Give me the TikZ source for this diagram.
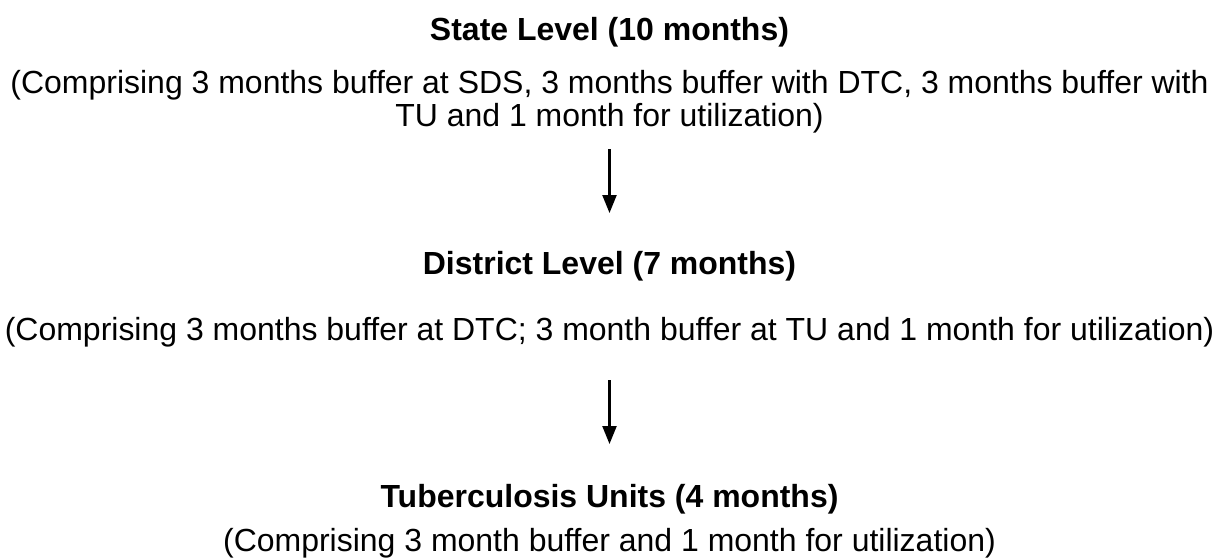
\documentclass[tikz,border=0pt]{standalone}
\usepackage{fontspec}
\setmainfont{Liberation Sans}
\usetikzlibrary{arrows.meta}

\begin{document}
\begin{tikzpicture}
    \useasboundingbox (0,0) rectangle (24.38,-11.16);
    \tikzset{every node/.style = {font = \fontsize{18.2}{18.8}\selectfont, align = center, inner sep = 0pt}}
    \node (state) at (12.19,-0.64) {\textbf{State Level (10 months)}};
    \node (stateinfo) at (12.19,-2.03) {(Comprising 3 months buffer at SDS, 3 months buffer with DTC, 3 months buffer with\\TU and 1 month for utilization)};
    \node (district) at (12.19,-5.32) {\textbf{District Level (7 months)}};
    \node (districtinfo) at (12.19,-6.64) {(Comprising 3 months buffer at DTC; 3 month buffer at TU and 1 month for utilization)};
    \node (tu) at (12.19,-9.98) {\textbf{Tuberculosis Units (4 months)}};
    \node (tuinfo) at (12.19,-10.86) {(Comprising 3 month buffer and 1 month for utilization)};
    %\draw [->] (stateinfo) -- (district);
    \coordinate (a1) at (12.19,-2.98);
    \coordinate (b1) at (12.19,-4.26);
    \coordinate (a2) at (12.19,-7.60);
    \coordinate (b2) at (12.19,-8.88);
    \draw [line width = 1.3pt, -{Triangle[length = 0.36cm, width = 0.28cm]}] (a1) -- (b1);
    \draw [line width = 1.3pt, -{Triangle[length = 0.36cm, width = 0.28cm]}] (a2) -- (b2);
  \end{tikzpicture}
\end{document}
